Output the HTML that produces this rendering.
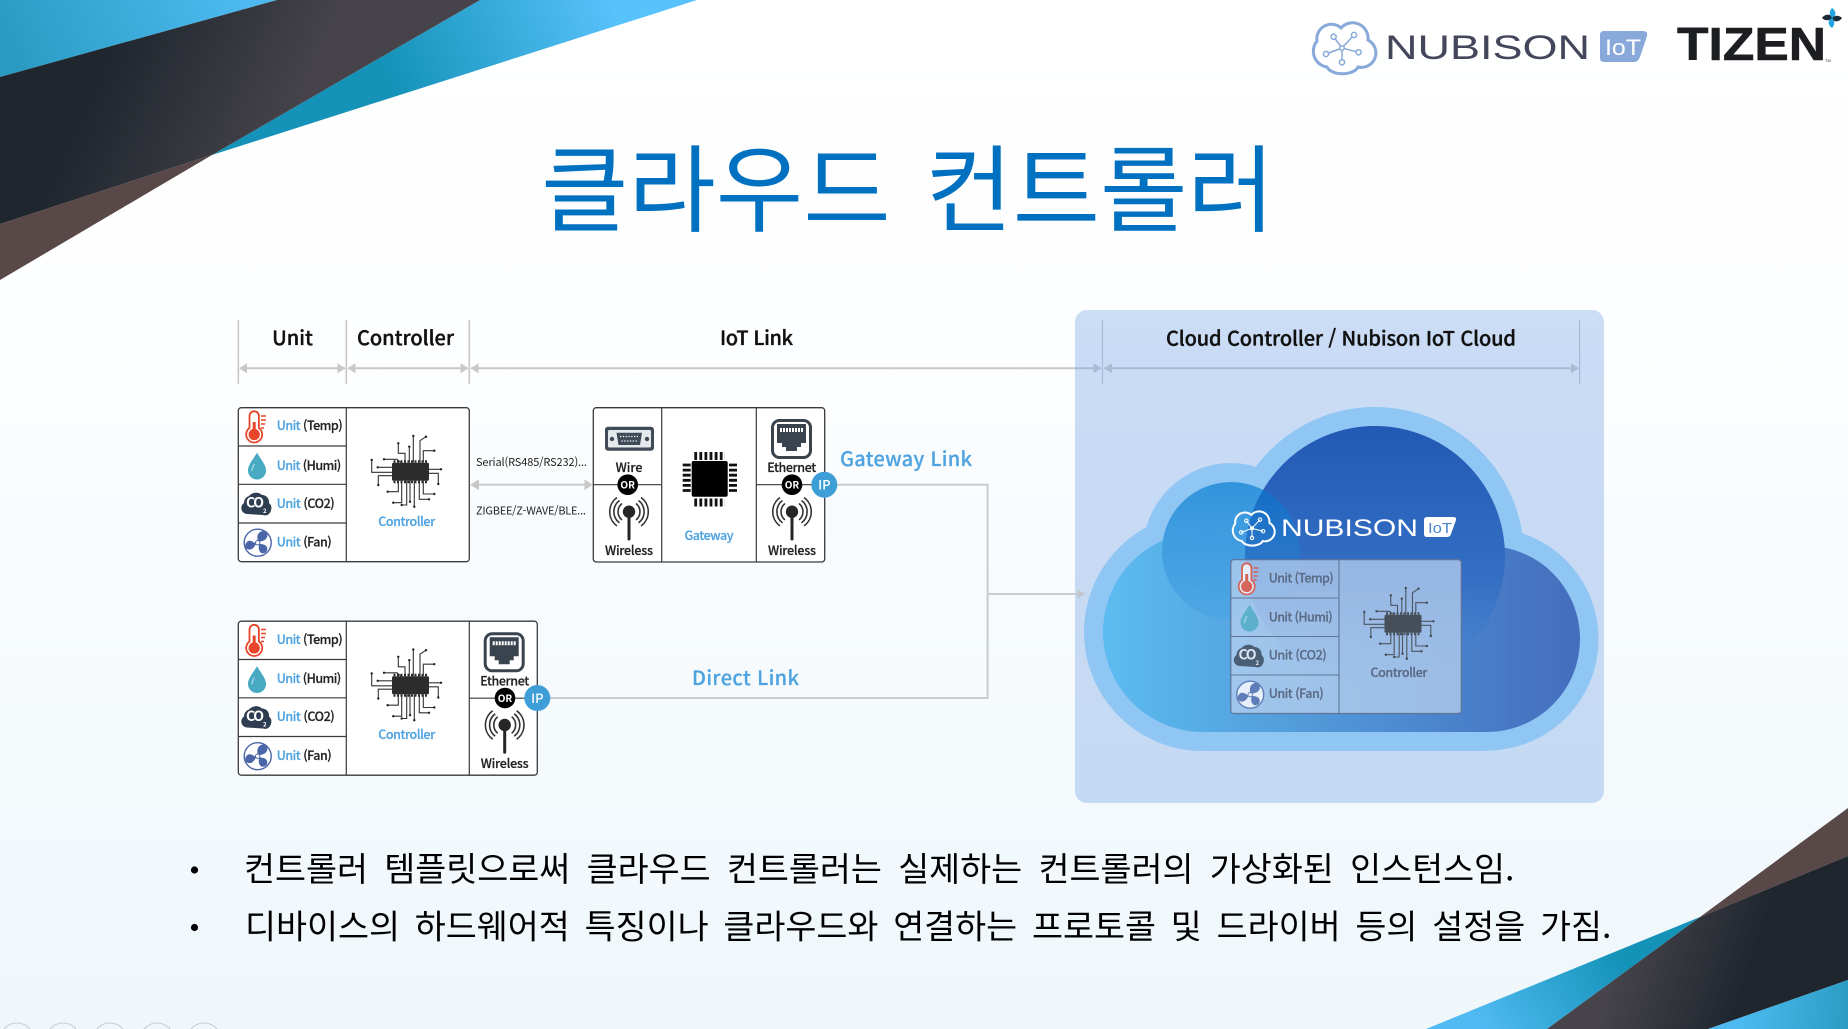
<!DOCTYPE html>
<html lang="ko"><head><meta charset="utf-8"><title>클라우드 컨트롤러</title>
<style>
html,body{margin:0;padding:0;width:1848px;height:1029px;overflow:hidden;background:#fff}
svg{display:block;position:absolute;left:0;top:0}
text{font-family:"Noto Sans CJK KR","Liberation Sans",sans-serif}
.h{font-size:20px;font-weight:500;fill:#111;stroke:#111;stroke-width:.35px}
.r{font-size:12.5px;font-weight:500;fill:#222;stroke:#222;stroke-width:.2px}
.b{fill:#4fa3e0;stroke:#4fa3e0}
.c{font-size:12.5px;font-weight:500;fill:#4fa3e0;stroke:#4fa3e0;stroke-width:.2px;text-anchor:middle}
.l{font-size:12.5px;font-weight:500;fill:#222;stroke:#222;stroke-width:.2px;text-anchor:middle}
.or{font-size:10px;font-weight:700;fill:#fff;text-anchor:middle}
.ip{font-size:13px;font-weight:500;fill:#fff;text-anchor:middle}
.s{font-size:11px;fill:#222}
.k{font-size:33.7px;fill:#000}
.g{font-size:20px;font-weight:500;fill:#4fa3e0;stroke:#4fa3e0;stroke-width:.2px}
</style></head><body>
<svg width="1848" height="1029" viewBox="0 0 1848 1029" xmlns="http://www.w3.org/2000/svg">
<defs>
<linearGradient id="bg" x1="0" y1="0" x2="0" y2="1"><stop offset="0" stop-color="#fff"/><stop offset=".3" stop-color="#fdfeff"/><stop offset="1" stop-color="#eff7fb"/></linearGradient>
<linearGradient id="c1" gradientUnits="userSpaceOnUse" x1="30" y1="90" x2="240" y2="0"><stop offset="0" stop-color="#2a9cc4"/><stop offset="1" stop-color="#4cbaf0"/></linearGradient>
<linearGradient id="d1" gradientUnits="userSpaceOnUse" x1="90" y1="90" x2="270" y2="170"><stop offset="0" stop-color="#1f262e"/><stop offset="1" stop-color="#46434a"/></linearGradient>
<linearGradient id="c2" gradientUnits="userSpaceOnUse" x1="400" y1="110" x2="620" y2="20"><stop offset="0" stop-color="#1492b8"/><stop offset="1" stop-color="#58c2fb"/></linearGradient>
<linearGradient id="c3" gradientUnits="userSpaceOnUse" x1="1610" y1="940" x2="1480" y2="1030"><stop offset="0" stop-color="#1492b8"/><stop offset="1" stop-color="#50bbf3"/></linearGradient>
<linearGradient id="d2" gradientUnits="userSpaceOnUse" x1="1620" y1="960" x2="1740" y2="1000"><stop offset="0" stop-color="#46434a"/><stop offset="1" stop-color="#1f262e"/></linearGradient>
<linearGradient id="c4" gradientUnits="userSpaceOnUse" x1="1740" y1="1020" x2="1848" y2="1029"><stop offset="0" stop-color="#4cbaf0"/><stop offset="1" stop-color="#2a9cc4"/></linearGradient>
<linearGradient id="panel" x1="0" y1="0" x2="0" y2="1"><stop offset="0" stop-color="#cbdcf5"/><stop offset="1" stop-color="#c4d9f3"/></linearGradient>
<linearGradient id="low" gradientUnits="userSpaceOnUse" x1="1103" y1="0" x2="1580" y2="0"><stop offset="0" stop-color="#5cbcf0"/><stop offset="1" stop-color="#446dbd"/></linearGradient>
<linearGradient id="big" gradientUnits="userSpaceOnUse" x1="0" y1="426" x2="0" y2="690"><stop offset="0" stop-color="#2259b5"/><stop offset=".6" stop-color="#3570c4"/><stop offset="1" stop-color="#4a86d2" stop-opacity="0"/></linearGradient>
<linearGradient id="sm" gradientUnits="userSpaceOnUse" x1="0" y1="482" x2="0" y2="625"><stop offset="0" stop-color="#3194dc"/><stop offset="1" stop-color="#4fa6e4" stop-opacity=".85"/></linearGradient>
<linearGradient id="ov" gradientUnits="userSpaceOnUse" x1="0" y1="490" x2="0" y2="640"><stop offset="0" stop-color="#0f72c8" stop-opacity=".8"/><stop offset="1" stop-color="#3a90dc" stop-opacity=".15"/></linearGradient>
<clipPath id="bigclip"><circle cx="1375" cy="556" r="130"/></clipPath>

<g id="temp">
 <path d="M249.5 428V416a4.7 4.7 0 0 1 9.4 0V428a8 8 0 1 1-9.4 0Z" fill="#fff" stroke="#e8452a" stroke-width="1.8"/>
 <circle cx="254.2" cy="434.5" r="5.6" fill="#e8452a"/><rect x="252.7" y="422" width="3" height="10" fill="#e8452a"/>
 <path d="M261 416h5M261 420h5M261 424h4M261 428h3" stroke="#e8452a" stroke-width="1.4"/>
</g>
<g id="drop">
 <path d="M257 452.7C252 461 248 465 248 470.5a9 9 0 0 0 18 0C266 465 262 461 257 452.7Z" fill="#48a9c3"/>
 <path d="M252 471c0-3 1-5 2.5-7" stroke="#9fd6e4" stroke-width="1.4" fill="none"/>
</g>
<g id="co2"><path d="M247 514a6 6 0 0 1-3-11 7 7 0 0 1 5-7 9 9 0 0 1 13-1 7 7 0 0 1 7 8 6 6 0 0 1 2 7 6 6 0 0 1-8 5Z" fill="#2e3d4f"/></g>
<g id="fan">
 <circle cx="257.7" cy="542.7" r="13.5" fill="#fff" stroke="#4a66a8" stroke-width="1.4"/>
 <path d="M257.7 541c-1-5 0-9 5-10 4 0 6 3 4 7-2 3-6 4-9 3ZM259.3 544c4 0 8 1 8 5 0 3-3 5-6 4-3-2-3-6-2-9ZM256 544c-2 4-5 7-9 5-3-2-2-6 1-8 3-1 6 1 8 3Z" fill="#4a66a8"/>
 <circle cx="257.7" cy="542.7" r="2.2" fill="#fff" stroke="#4a66a8"/>
</g>
<g id="chip">
 <g fill="none" stroke="#333" stroke-width="1.1">
 <path d="M413.3 436V462.7M426 436.7L420 440.7V462.7M434.3 450.7H423.3V462.7M409.3 446.7V462.7M398.3 443.3V453.3H405V462.7M384 459.3H397L401 462.7M371.7 460V472.3H392M377.7 467.3H392M378.3 485V475.7H392M441 469.3H429M438.3 484V473.3H429M434.3 494H423.3V480.7M429 499.3H419.3V480.7M414.3 506.7V480.7M410 501.7V480.7M401.7 505H406.7V480.7M393.3 502.7H401.7V480.7M387.7 491.7H398.3V480.7"/>
 </g>
 <g fill="#222"><circle cx="413.3" cy="436" r="1.2"/><circle cx="426" cy="436.7" r="1.2"/><circle cx="434.3" cy="450.7" r="1.2"/><circle cx="409.3" cy="446.7" r="1.2"/><circle cx="398.3" cy="443.3" r="1.2"/><circle cx="384" cy="459.3" r="1.2"/><circle cx="371.7" cy="460" r="1.2"/><circle cx="377.7" cy="467.3" r="1.2"/><circle cx="378.3" cy="485" r="1.2"/><circle cx="441" cy="469.3" r="1.2"/><circle cx="438.3" cy="484" r="1.2"/><circle cx="434.3" cy="494" r="1.2"/><circle cx="429" cy="499.3" r="1.2"/><circle cx="414.3" cy="506.7" r="1.2"/><circle cx="410" cy="501.7" r="1.2"/><circle cx="401.7" cy="505" r="1.2"/><circle cx="393.3" cy="502.7" r="1.2"/><circle cx="387.7" cy="491.7" r="1.2"/></g>
 <rect x="392" y="462.7" width="37" height="18" rx="1.5" fill="#2c2c2c"/>
 <path d="M393.5 461.5H428M393.5 482H428" stroke="#2c2c2c" stroke-width="2.5" stroke-dasharray="2 1.5"/>
</g>
<g id="wl">
 <circle cx="629" cy="511.7" r="6.2" fill="#262626"/>
 <path d="M629 513V539" stroke="#262626" stroke-width="3" stroke-linecap="round"/>
 <g fill="none" stroke="#333" stroke-width="1.6">
 <path d="M622 503.5a10.5 10.5 0 0 0 0 16.4M636 503.5a10.5 10.5 0 0 1 0 16.4"/>
 <path d="M619.5 500.5a14 14 0 0 0 0 22.4M638.5 500.5a14 14 0 0 1 0 22.4"/>
 <path d="M617 497.5a17.5 17.5 0 0 0 0 28.4M641 497.5a17.5 17.5 0 0 1 0 28.4"/>
 </g>
</g>
<g id="eth">
 <rect x="772.5" y="420.5" width="38" height="37" rx="7" fill="#fff" stroke="#39444f" stroke-width="3"/>
 <path d="M777 424H806V443H801V447H797V451H786V447H782V443H777Z" fill="#39444f"/>
 <path d="M780 430H803" stroke="#fff" stroke-width="4" stroke-dasharray="2 1"/>
</g>
<g id="lc">
 <path d="M1341 28A15.5 15.5 0 0 1 1368 40A14.5 14.5 0 0 1 1358 67A16 9 0 0 1 1327 67A16 16 0 0 1 1317 41A14.5 14.5 0 0 1 1341 28Z"/>
 <path d="M1342 48L1333.6 36.7M1342 48L1354 35M1342 48L1326 54M1342 48L1358.6 52.3M1342 48V62" stroke-width="1.5"/>
 <g stroke-width="1.5"><circle cx="1342" cy="48" r="2.3"/><circle cx="1333.6" cy="36.7" r="2.6"/><circle cx="1354" cy="35" r="2.6"/><circle cx="1326" cy="54" r="2.6"/><circle cx="1358.6" cy="52.3" r="2.6"/><circle cx="1342" cy="62.3" r="2.6"/></g>
</g>
</defs>

<rect width="1848" height="1029" fill="url(#bg)"/>

<!-- corners -->
<polygon points="0,0 277,0 0,77" fill="url(#c1)"/>
<polygon points="480,0 697,0 212,155" fill="url(#c2)"/>
<polygon points="277,0 480,0 212,155 0,224 0,77" fill="url(#d1)"/>
<polygon points="212,155 0,224 0,280" fill="#594848"/>
<polygon points="1848,808 1700,917 1848,856" fill="#594848"/>
<polygon points="1700,917 1547,1029 1426,1029" fill="url(#c3)"/>
<polygon points="1700,917 1848,856 1848,980 1708,1029 1547,1029" fill="url(#d2)"/>
<polygon points="1848,980 1708,1029 1848,1029" fill="url(#c4)"/>

<!-- footer circles -->
<g fill="none" stroke="#c8ccce" stroke-width="1"><circle cx="17" cy="1040" r="17"/><circle cx="63" cy="1040" r="17"/><circle cx="110" cy="1040" r="17"/><circle cx="157" cy="1040" r="17"/><circle cx="204" cy="1040" r="17"/></g>

<!-- title -->
<text x="541" y="224" font-size="95" word-spacing="8" fill="#0070c0">클라우드 컨트롤러</text>

<!-- logos -->
<use href="#lc" fill="#fff" stroke="#88a9d9" stroke-width="3"/>
<text x="1385" y="59" font-size="34" fill="#44465c" textLength="205" lengthAdjust="spacingAndGlyphs" style='font-family:"Liberation Sans",sans-serif'>NUBISON</text>
<path d="M1604 31H1643Q1648 31 1647 36L1640 57Q1638 62 1634 62H1604Q1600 62 1600 58V35Q1600 31 1604 31Z" fill="#88a9d9"/>
<text x="1605" y="55" font-size="22" fill="#fff" textLength="36" lengthAdjust="spacingAndGlyphs" style='font-family:"Liberation Sans",sans-serif'>IoT</text>
<text x="1677" y="60" font-size="46" font-weight="700" fill="#1c1e21" stroke="#1c1e21" stroke-width=".6" textLength="149" lengthAdjust="spacingAndGlyphs" style='font-family:"Liberation Sans",sans-serif'>TIZEN</text>
<text x="1825" y="62" font-size="4" fill="#333" style='font-family:"Liberation Sans",sans-serif'>TM</text>
<g transform="translate(1832 18)">
 <path d="M0 0C-3-3-3-7 0-10C3-8 4-5 3-2Z" fill="#22a5e0"/><path d="M0 0C3-3 7-3 10 0C8 3 5 4 2 3Z" fill="#1b2a38"/><path d="M0 0C3 3 3 7 0 10C-3 8-4 5-3 2Z" fill="#22a5e0"/><path d="M0 0C-3 3-7 3-10 0C-8-3-5-4-2-3Z" fill="#1b2a38"/>
</g>

<!-- panel -->
<rect x="1075" y="310" width="529" height="493" rx="12" fill="url(#panel)"/>

<!-- header dims -->
<g stroke="#c8c8c8" stroke-width="1.6">
 <path d="M238.3 320V384M346.3 320V384M469.3 320V384"/>
 <path d="M240 368.3H345M348 368.3H468M471 368.3H1075" stroke-width="2"/>
</g>
<g fill="#c8c8c8">
 <path d="M239 368.3l8-5v10ZM345.5 368.3l-8-5v10ZM347.5 368.3l8-5v10ZM468.5 368.3l-8-5v10ZM470.5 368.3l8-5v10Z"/>
</g>
<g stroke="#a9bad4">
 <path d="M1102.5 320V384M1579.6 320V384" stroke-width="1.2"/>
 <path d="M1075 368.3H1101M1104 368.3H1578" stroke-width="2"/>
</g>
<g fill="#a9bad4"><path d="M1101.5 368.3l-8-5v10ZM1104 368.3l8-5v10ZM1579 368.3l-8-5v10Z"/></g>
<text class="h" x="292.5" y="345" text-anchor="middle">Unit</text>
<text class="h" x="357" y="345" textLength="97">Controller</text>
<text class="h" x="720" y="345" textLength="73">IoT Link</text>
<text class="h" x="1166" y="345.5" textLength="350">Cloud Controller / Nubison IoT Cloud</text>

<!-- connectors -->
<g fill="none" stroke="#c8cdd0" stroke-width="2">
 <path d="M837 484.7H987.6V698H550"/><path d="M987.6 594H1078"/>
 <path d="M474 484.7H586"/>
</g>
<path d="M1085.5 594l-8-4.5v9Z" fill="#c0c6ca"/>
<path d="M470 484.7l9-5.5v11ZM592.5 484.7l-8-5.5v11Z" fill="#c8c8c8"/>
<text class="s" x="476" y="466" textLength="111">Serial(RS485/RS232)...</text>
<text class="s" x="476" y="514.5" textLength="110">ZIGBEE/Z-WAVE/BLE...</text>
<text class="g" x="840" y="466" textLength="132">Gateway Link</text>
<text class="g" x="692" y="685" textLength="107">Direct Link</text>

<!-- table 1 -->
<rect x="238.3" y="407.7" width="231" height="154" rx="3" fill="#fff" stroke="#3a3a3a" stroke-width="1.3"/>
<path d="M346.3 407.7V561.7M238.3 446H346.3M238.3 484.3H346.3M238.3 523H346.3" stroke="#3a3a3a" stroke-width="1.2" fill="none"/>
<use href="#temp"/><use href="#drop"/><use href="#co2"/><use href="#fan"/><use href="#chip"/>
<text x="246" y="507.5" font-size="14" font-weight="700" fill="#fff" textLength="18">CO</text><text x="263" y="513" font-size="6" font-weight="700" fill="#fff">2</text>
<text class="r" x="276.7" y="430" textLength="66"><tspan class="b">Unit</tspan> (Temp)</text>
<text class="r" x="276.7" y="470" textLength="64.5"><tspan class="b">Unit</tspan> (Humi)</text>
<text class="r" x="276.7" y="508" textLength="58"><tspan class="b">Unit</tspan> (CO2)</text>
<text class="r" x="276.7" y="546.7" textLength="55"><tspan class="b">Unit</tspan> (Fan)</text>
<text class="c" x="406.7" y="525.8" textLength="57">Controller</text>

<!-- gateway box -->
<rect x="593.3" y="407.7" width="231.4" height="154.3" rx="3" fill="#fff" stroke="#3a3a3a" stroke-width="1.3"/>
<path d="M661.7 407.7V562M756.3 407.7V562M593.3 484.7H661.7M756.3 484.7H824" stroke="#3a3a3a" stroke-width="1.2" fill="none"/>
<rect x="605" y="426.7" width="49" height="24" rx="3" fill="#3f4b56"/>
<rect x="608" y="430" width="43" height="17.5" rx="1.5" fill="#e6e9ec"/>
<path d="M616.5 432.7H642L640 445H618.5Z" fill="#3f4b56"/>
<path d="M620 436.5H639M621.5 441H637.5" stroke="#fff" stroke-width="1.3" stroke-dasharray="1.3 1.5"/>
<circle cx="612" cy="439" r="2.2" fill="#3f4b56"/><circle cx="647" cy="439" r="2.2" fill="#3f4b56"/>
<text class="l" x="629" y="472.2">Wire</text>
<circle cx="627.7" cy="484.7" r="10.3" fill="#000"/><text class="or" x="627.7" y="488.5">OR</text>
<use href="#wl"/>
<text class="l" x="629" y="555" textLength="48">Wireless</text>
<rect x="691.7" y="461" width="36" height="35.7" rx="2" fill="#000"/>
<path d="M694.3 456H725M694.3 502.5H725" stroke="#111" stroke-width="8" stroke-dasharray="2.8 2.3"/>
<path d="M686.7 463.6V493M733 463.6V493" stroke="#111" stroke-width="8" stroke-dasharray="2.8 2.3"/>
<text class="c" x="709" y="540.2" textLength="49">Gateway</text>
<use href="#eth"/>
<text class="l" x="791.7" y="472.2" textLength="49">Ethernet</text>
<circle cx="792" cy="484.7" r="10.3" fill="#000"/><text class="or" x="792" y="488.5">OR</text>
<use href="#wl" x="163"/>
<text class="l" x="792" y="555" textLength="48">Wireless</text>
<circle cx="824.3" cy="484.7" r="13" fill="#3e9fd8"/><text class="ip" x="824.3" y="489.5">IP</text>

<!-- table 2 -->
<rect x="238.3" y="621.2" width="299" height="154" rx="3" fill="#fff" stroke="#3a3a3a" stroke-width="1.3"/>
<path d="M346.3 621.2V775.2M469.3 621.2V775.2M238.3 659.5H346.3M238.3 697.8H346.3M238.3 736.5H346.3M469.3 698.2H537" stroke="#3a3a3a" stroke-width="1.2" fill="none"/>
<g transform="translate(0 213.5)"><use href="#temp"/><use href="#drop"/><use href="#co2"/><use href="#fan"/><use href="#chip"/></g>
<text x="246" y="721" font-size="14" font-weight="700" fill="#fff" textLength="18">CO</text><text x="263" y="726.5" font-size="6" font-weight="700" fill="#fff">2</text>
<text class="r" x="276.7" y="643.8" textLength="66"><tspan class="b">Unit</tspan> (Temp)</text>
<text class="r" x="276.7" y="683" textLength="64.5"><tspan class="b">Unit</tspan> (Humi)</text>
<text class="r" x="276.7" y="721" textLength="58"><tspan class="b">Unit</tspan> (CO2)</text>
<text class="r" x="276.7" y="760" textLength="55"><tspan class="b">Unit</tspan> (Fan)</text>
<text class="c" x="406.7" y="739" textLength="57">Controller</text>
<g transform="translate(-287.3 213.3)"><use href="#eth"/></g>
<text class="l" x="504.7" y="685.4" textLength="49">Ethernet</text>
<circle cx="505" cy="698" r="10.3" fill="#000"/><text class="or" x="505" y="701.8">OR</text>
<g transform="translate(-124.3 213.3)"><use href="#wl"/></g>
<text class="l" x="504.7" y="768" textLength="48">Wireless</text>
<circle cx="537.3" cy="698" r="13" fill="#3e9fd8"/><text class="ip" x="537.3" y="702.8">IP</text>

<!-- cloud -->
<g fill="#90c6f4">
 <circle cx="1203" cy="632" r="119"/><circle cx="1487" cy="639" r="111.5"/><circle cx="1375" cy="556" r="149"/><circle cx="1231" cy="551" r="88"/>
 <rect x="1203" y="620" width="284" height="131"/>
</g>
<g fill="url(#low)">
 <circle cx="1203" cy="632" r="100"/><circle cx="1487" cy="639" r="93"/><rect x="1203" y="600" width="284" height="132"/>
</g>
<circle cx="1231" cy="551" r="69" fill="url(#sm)"/>
<circle cx="1375" cy="556" r="130" fill="url(#big)"/>
<circle cx="1231" cy="551" r="69" fill="url(#ov)" clip-path="url(#bigclip)"/>
<g transform="translate(1253 528) scale(.67) translate(-1343.5 -47.5)"><use href="#lc" fill="none" stroke="#fff" stroke-width="3"/></g>
<text x="1281" y="536" font-size="24" fill="#fff" textLength="137" lengthAdjust="spacingAndGlyphs" style='font-family:"Liberation Sans",sans-serif'>NUBISON</text>
<path d="M1427 517H1453Q1457 517 1456 520L1451 534Q1450 537 1447 537H1427Q1424 537 1424 534V520Q1424 517 1427 517Z" fill="#fff"/>
<text x="1428" y="533" font-size="15" fill="#4a86d2" textLength="24" lengthAdjust="spacingAndGlyphs" style='font-family:"Liberation Sans",sans-serif'>IoT</text>

<!-- cloud table -->
<rect x="1230.8" y="559.7" width="230.5" height="153.8" rx="3" fill="#bcd2f0" fill-opacity=".72" stroke="#5f7598" stroke-width="1.2"/>
<path d="M1339 559.7V713.5M1230.8 598H1339M1230.8 636.5H1339M1230.8 675H1339" stroke="#5f7598" stroke-width="1.1" fill="none"/>
<g transform="translate(992.5 152)" opacity=".75"><use href="#temp"/><use href="#drop"/><use href="#chip"/><use href="#co2"/><use href="#fan"/></g>
<text x="1238.5" y="659.5" font-size="14" font-weight="700" fill="#dbe6f6" textLength="18">CO</text><text x="1255.5" y="665" font-size="6" font-weight="700" fill="#dbe6f6">2</text>
<g font-size="12.5" font-weight="500" fill="#5a6a85" stroke="#5a6a85" stroke-width=".2">
<text x="1268.7" y="582.7" textLength="65">Unit (Temp)</text>
<text x="1268.7" y="621.7" textLength="64">Unit (Humi)</text>
<text x="1268.7" y="659.7" textLength="58">Unit (CO2)</text>
<text x="1268.7" y="698" textLength="55">Unit (Fan)</text>
<text x="1399" y="677" text-anchor="middle" textLength="57">Controller</text>
</g>

<!-- bullets -->
<circle cx="194.5" cy="870" r="3.6" fill="#000"/><circle cx="194.5" cy="927.5" r="3.6" fill="#000"/>
<text class="k" x="244" y="881" word-spacing="6.9">컨트롤러 템플릿으로써 클라우드 컨트롤러는 실제하는 컨트롤러의 가상화된 인스턴스임.</text>
<text class="k" x="245" y="938.5" word-spacing="5.4">디바이스의 하드웨어적 특징이나 클라우드와 연결하는 프로토콜 및 드라이버 등의 설정을 가짐.</text>
</svg>
</body></html>
